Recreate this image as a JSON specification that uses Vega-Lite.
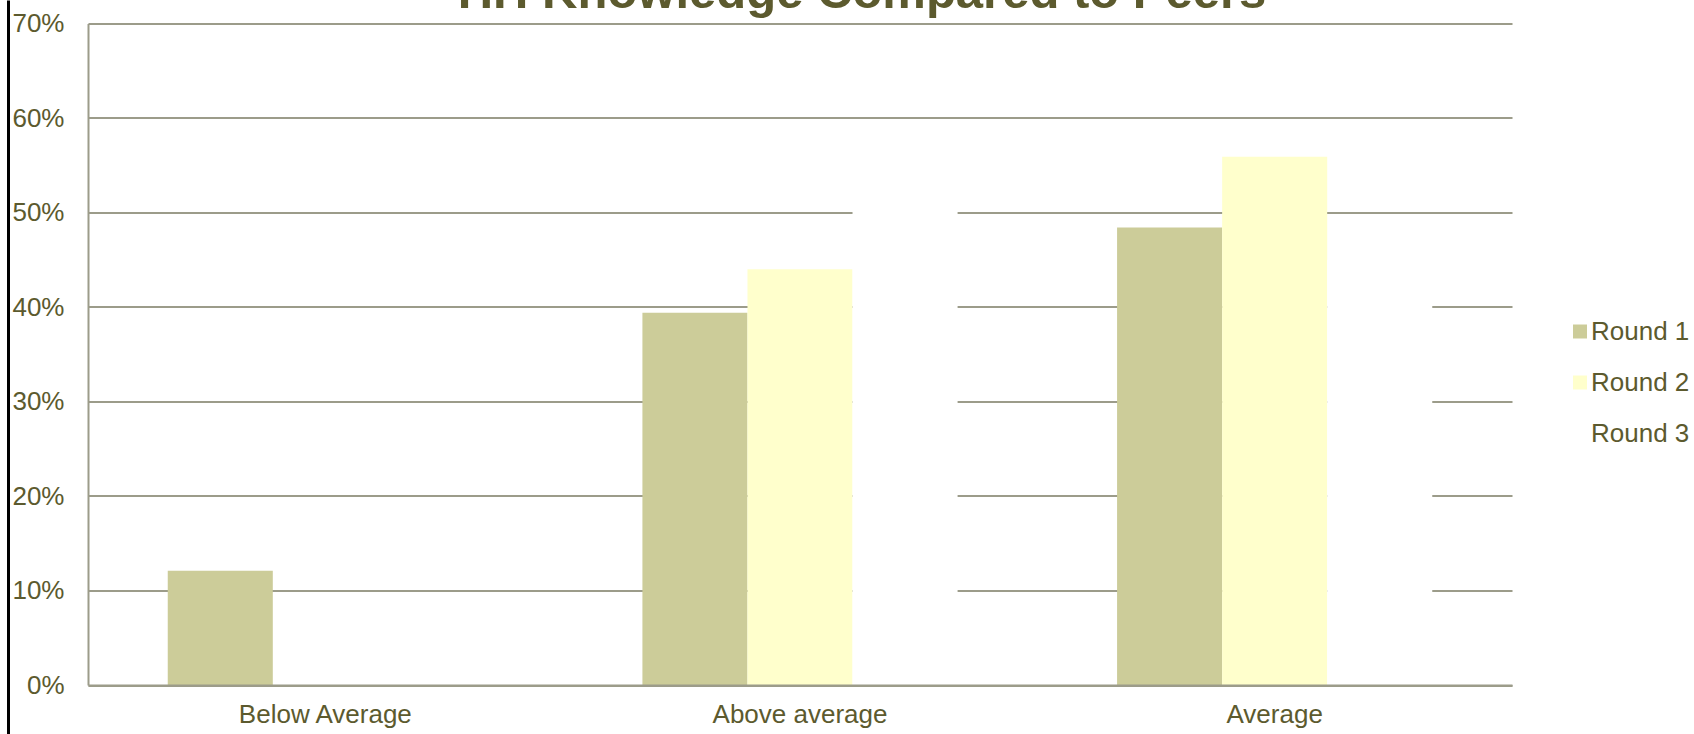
{
  "$schema": "https://vega.github.io/schema/vega-lite/v6.json",
  "autosize": "none",
  "width": 1424,
  "height": 661.5,
  "padding": {"left": 88, "top": 23.5, "right": 182, "bottom": 49},
  "background": "white",
  "config": {
    "font": "Liberation Sans",
    "view": {"stroke": null}
  },
  "title": {
    "text": "HH Knowledge Compared to Peers",
    "font": "Liberation Sans",
    "fontSize": 49,
    "fontWeight": "bold",
    "color": "#5C5A2E",
    "anchor": "middle",
    "baseline": "alphabetic",
    "offset": 0,
    "dy": 46,
    "dx": 62
  },
  "data": {
    "values": [
      {"category": "Below Average", "round": "Round 1", "value": 0.121},
      {"category": "Below Average", "round": "Round 2", "value": 0},
      {"category": "Below Average", "round": "Round 3", "value": 0},
      {"category": "Above average", "round": "Round 1", "value": 0.394},
      {"category": "Above average", "round": "Round 2", "value": 0.44},
      {"category": "Above average", "round": "Round 3", "value": 0.55},
      {"category": "Average", "round": "Round 1", "value": 0.484},
      {"category": "Average", "round": "Round 2", "value": 0.559},
      {"category": "Average", "round": "Round 3", "value": 0.45}
    ]
  },
  "resolve": {"scale": {"y": "independent"}, "axis": {"y": "independent"}},
  "layer": [
    {
      "mark": {"type": "bar", "strokeWidth": 0},
      "encoding": {
        "x": {
          "field": "category",
          "type": "nominal",
          "sort": ["Below Average", "Above average", "Average"],
          "scale": {"paddingInner": 0.336, "paddingOuter": 0.168},
          "axis": {
            "title": null,
            "labelAngle": 0,
            "labelFontSize": 26,
            "labelLimit": 500,
            "labelColor": "#5C5A2E",
            "labelPadding": 16,
            "ticks": false,
            "domainColor": "#9C9C8A",
            "domainWidth": 2,
            "grid": false,
            "zindex": 1
          }
        },
        "xOffset": {
          "field": "round",
          "type": "nominal",
          "scale": {"domain": ["Round 1", "Round 2", "Round 3"], "paddingInner": 0, "paddingOuter": 0}
        },
        "y": {
          "field": "value",
          "type": "quantitative",
          "scale": {"domain": [0, 0.7], "nice": false},
          "axis": {
            "title": null,
            "orient": "left",
            "format": ".0%",
            "values": [0, 0.1, 0.2, 0.3, 0.4, 0.5, 0.6, 0.7],
            "labelFontSize": 26,
            "labelColor": "#5C5A2E",
            "labelPadding": 24,
            "ticks": false,
            "domainColor": "#9C9C8A",
            "domainWidth": 2,
            "gridColor": "#9C9C8A",
            "gridWidth": 2,
            "zindex": 0
          }
        },
        "color": {
          "field": "round",
          "type": "nominal",
          "scale": {"domain": ["Round 1", "Round 2", "Round 3"], "range": ["#CCCC99", "#FFFFCC", "#FFFFFF"]},
          "legend": {
            "title": null,
            "orient": "none",
            "legendX": 1479,
            "legendY": 295,
            "symbolType": "square",
            "symbolSize": 196,
            "symbolStrokeWidth": 0,
            "labelFontSize": 26,
            "labelLimit": 300,
            "labelColor": "#5C5A2E",
            "labelOffset": -2,
            "rowPadding": 25
          }
        }
      }
    },
    {
      "mark": {"type": "tick", "opacity": 0},
      "encoding": {
        "x": {
          "field": "category",
          "type": "nominal",
          "sort": ["Below Average", "Above average", "Average"]
        },
        "y": {
          "field": "value",
          "type": "quantitative",
          "scale": {"domain": [0, 0.7], "nice": false, "zero": true, "range": [710.5, -23.5]},
          "axis": {
            "title": null,
            "orient": "left",
            "offset": 80,
            "labels": false,
            "ticks": false,
            "grid": false,
            "domainColor": "#000000",
            "domainWidth": 3
          }
        }
      }
    }
  ]
}
